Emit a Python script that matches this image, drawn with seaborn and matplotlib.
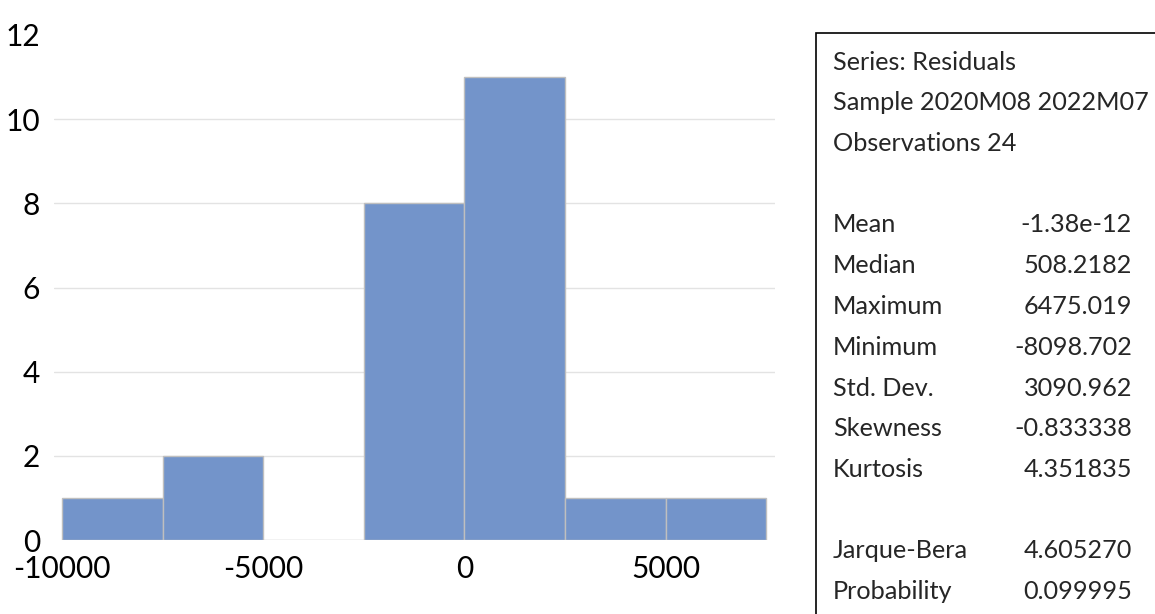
import numpy as np
import seaborn as sns
import matplotlib.pyplot as plt
from matplotlib.patches import Rectangle

# --- dati ---
bin_edges = [-10000, -7500, -5000, -2500, 0, 2500, 5000, 7500]
counts = [1, 2, 0, 8, 11, 1, 1]
x_ticks = [-10000, -5000, 0, 5000]
y_ticks = [0, 2, 4, 6, 8, 10, 12]

stat_labels = ["Mean", "Median", "Maximum", "Minimum", "Std. Dev.",
               "Skewness", "Kurtosis"]
stat_values = ["-1.38e-12", "508.2182", "6475.019", "-8098.702", "3090.962",
               "-0.833338", "4.351835"]
test_labels = ["Jarque-Bera", "Probability"]
test_values = ["4.605270", "0.099995"]
header_lines = ["Series: Residuals", "Sample 2020M08 2022M07", "Observations 24"]

centers = [(a + b) / 2 for a, b in zip(bin_edges[:-1], bin_edges[1:])]

sns.set_style("white")
plt.rcParams['font.family'] = ['Lato', 'DejaVu Sans']
plt.rcParams['axes.unicode_minus'] = False

fig = plt.figure(figsize=(11.55, 6.14), dpi=100)
ax = fig.add_axes([54 / 1155, 74 / 614, (775 - 54) / 1155, (540 - 35) / 614])

sns.histplot(x=centers, weights=counts, bins=bin_edges, ax=ax,
             color='#7394CA', alpha=1, edgecolor='#BFBFBF', linewidth=1,
             zorder=3)

ax.set_xlim(-10200, 7720)
ax.set_ylim(0, 12)
ax.set_xticks(x_ticks)
ax.set_yticks(y_ticks)
ax.tick_params(axis='both', length=0, labelsize=21.5, colors='black')
ax.tick_params(axis='x', pad=11)
ax.tick_params(axis='y', pad=10)
for v in y_ticks[1:-1]:
    ax.axhline(v, color='#E3E3E3', linewidth=1, zorder=1)
ax.set_xlabel('')
ax.set_ylabel('')
for s in ax.spines.values():
    s.set_visible(False)

# --- riquadro statistiche ---
fig.add_artist(Rectangle((816 / 1155, -0.1), 0.5, 1.1 - 33 / 614,
                         transform=fig.transFigure, fill=False,
                         edgecolor='black', linewidth=1.2))

def ypos(px):
    return 1 - px / 614

lx = 833 / 1155
rx = 1132 / 1155
fs = 18.2
for i, t in enumerate(header_lines):
    fig.text(lx, ypos(62 + i * 40.8), t, fontsize=fs, va='center', ha='left')
for i, (l, v) in enumerate(zip(stat_labels, stat_values)):
    y = ypos(225 + i * 40.8)
    fig.text(lx, y, l, fontsize=fs, va='center', ha='left')
    fig.text(rx, y, v, fontsize=fs, va='center', ha='right')
for i, (l, v) in enumerate(zip(test_labels, test_values)):
    y = ypos(551 + i * 40.8)
    fig.text(lx, y, l, fontsize=fs, va='center', ha='left')
    fig.text(rx, y, v, fontsize=fs, va='center', ha='right')

fig.savefig('out.png', dpi=100)
